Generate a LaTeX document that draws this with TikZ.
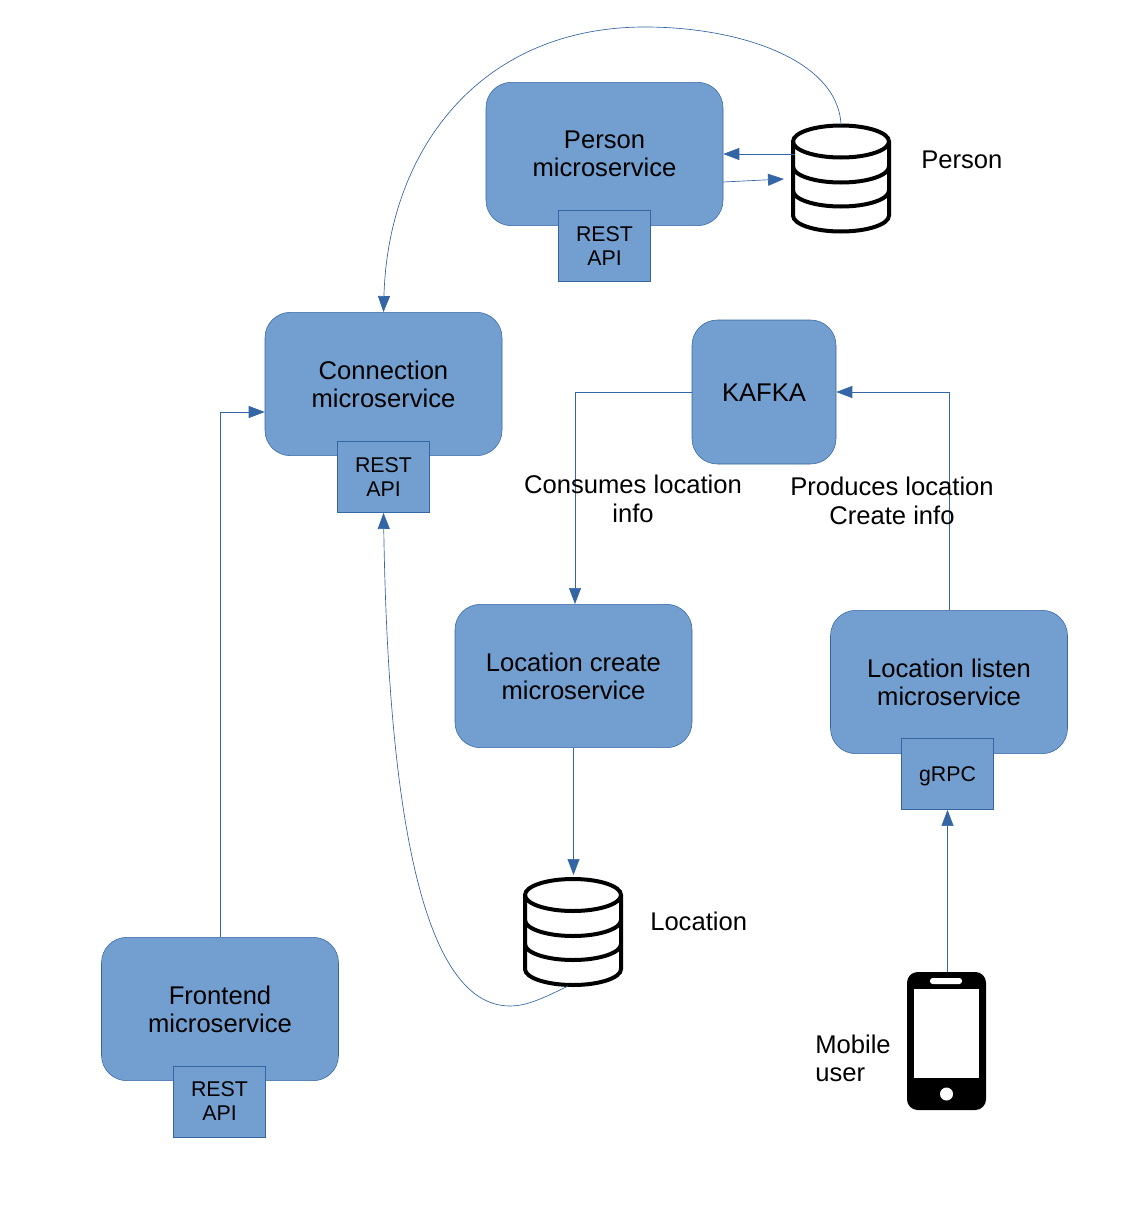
\documentclass[tikz,border=0pt]{standalone}
\usepackage{fontspec}
\setmainfont{Liberation Sans}
\usetikzlibrary{arrows.meta, calc}
\definecolor{boxfill}{HTML}{729FCF}
\definecolor{boxline}{HTML}{3465A4}
\tikzset{
	service/.style={draw=boxline, fill=boxfill, rounded corners=19pt, minimum width=177.75pt, minimum height=107.5pt, align=center, inner sep=0pt, font=\fontsize{19.2}{21}\selectfont},
	kafkabox/.style={service, minimum width=108pt, minimum height=108pt, text height=14.5pt, text depth=0pt},
	apibox/.style={draw=boxline, fill=boxfill, minimum width=69pt, minimum height=53.5pt, align=center, inner sep=0pt, font=\fontsize{16}{18}\selectfont},
	label/.style={align=center, inner sep=0pt, font=\fontsize{19.2}{21.75}\selectfont},
	link/.style={draw=boxline, line width=0.5pt, -{Triangle[length=12pt, width=9pt]}},
	hidden/.style={inner sep=0pt, minimum width=74pt, minimum height=81pt},
}
\newcommand{\dbicon}[2]{
	\draw[line width=3pt, fill=white] (#1-48,#2) arc[start angle=180, end angle=0, x radius=48, y radius=16] arc[start angle=0, end angle=-180, x radius=48, y radius=16] -- cycle;
	\draw[line width=3pt] (#1-48,#2) -- (#1-48,#2+74) arc[start angle=180, end angle=0, x radius=48, y radius=16] -- (#1+48,#2);
	\foreach \off in {25,49} {\draw[line width=3pt] (#1-48,#2+\off) arc[start angle=180, end angle=0, x radius=48, y radius=16];}
}

\begin{document}
\begin{tikzpicture}[x=0.75pt, y=-0.75pt]
	\useasboundingbox (0,0) rectangle (1134,1210);
	% services
	\node[service] (person) at (604.5,154) {Person\\microservice};
	\node[apibox] (personapi) at (604.5,246) {REST\\API};
	\node[service] (connection) at (383.5,384) {Connection\\microservice};
	\node[apibox] (connectionapi) at (383.5,477) {REST\\API};
	\node[kafkabox] (kafka) at (764,392) {KAFKA};
	\node[service] (loccreate) at (573.5,676) {Location create\\microservice};
	\node[service] (loclisten) at (949,682) {Location listen\\microservice};
	\node[apibox, text height=14.7pt, text depth=3.4pt] (grpc) at (947.5,774) {gRPC};
	\node[service] (frontend) at (220,1009) {Frontend\\microservice};
	\node[apibox] (frontendapi) at (219.5,1101.5) {REST\\API};
	% databases and phone
	\dbicon{841}{141.5}
	\dbicon{573}{895}
	\node[hidden] (persondb) at (841,179) {};
	\node[hidden] (locationdb) at (573,932) {};
	\fill[rounded corners=8pt] (907,972) rectangle (986,1110);
	\fill[white] (914,989) rectangle (979,1078);
	\fill[white, rounded corners=2pt] (930,978) rectangle (962,984);
	\fill[white] (946.5,1094) circle (6.5);
	\node[inner sep=0pt, minimum width=59pt, minimum height=103.5pt] (phone) at (946.5,1041) {};
	% arrows
	\draw[link] (persondb.north) .. controls (838,60) and (740,27) .. (645,27) .. controls (480,27) and (388,150) .. (connection.north);
	\draw[link] (795,154) -- (person.east |- 0,154);
	\draw[link] (person.east |- 0,182) -- (784,179);
	\draw[link] (kafka.west) -| (575,604);
	\draw[link] (loclisten.north) |- (kafka.east);
	\draw[link] (loccreate.south) -- (loccreate.south |- 0,875);
	\draw[link] (568,986) .. controls (540,1000) and (525,1006) .. (510,1006) .. controls (420,1006) and (388,800) .. (connectionapi.south);
	\draw[link] (frontend.north) |- (connection.west |- 0,412);
	\draw[link] (phone.north -| grpc.south) -- (grpc.south);
	% labels
	\node[label, anchor=west] (personlabel) at (921,160) {Person};
	\node[label, anchor=west] (locationlabel) at (650,921) {Location};
	\node[label, align=left, anchor=west, font=\fontsize{19.2}{21}\selectfont] (mobilelabel) at (815,1058) {Mobile\\user};
	\node[label] (consumeslabel) at (633,499) {Consumes location\\info};
	\node[label] (produceslabel) at (892,501) {Produces location\\Create info};
\end{tikzpicture}
\end{document}
